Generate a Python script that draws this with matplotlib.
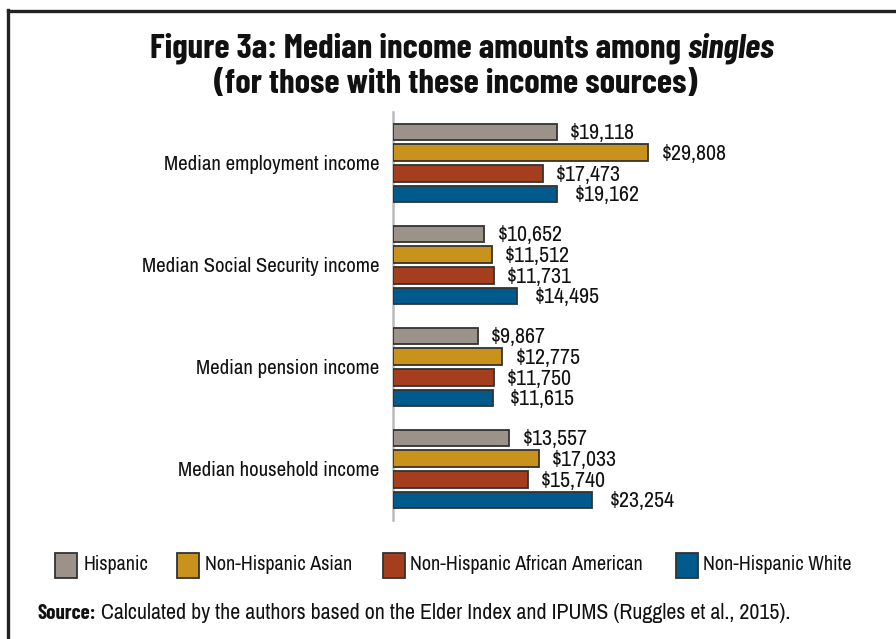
import matplotlib
matplotlib.use("Agg")
import matplotlib.pyplot as plt
from matplotlib.patches import Rectangle
from matplotlib.lines import Line2D

# 所得区分と人種・民族グループ別の中央値
categories = ["Median employment income", "Median Social Security income",
              "Median pension income", "Median household income"]
groups = ["Hispanic", "Non-Hispanic Asian", "Non-Hispanic African American", "Non-Hispanic White"]
hispanic = [19118, 10652, 9867, 13557]
asian = [29808, 11512, 12775, 17033]
african_american = [17473, 11731, 11750, 15740]
white = [19162, 14495, 11615, 23254]
colors = ["#9B928A", "#C8921C", "#A53E1E", "#005A8C"]

series = [hispanic, asian, african_american, white]

BODY = ["Archivo Narrow", "Liberation Sans", "DejaVu Sans"]
HEAD = ["Barlow Condensed", "Liberation Sans", "DejaVu Sans"]
plt.rcParams["font.family"] = BODY

W, H = 896, 639
fig = plt.figure(figsize=(W / 100, H / 100), dpi=100)

# 外枠（左と上の線）
fig.add_artist(Line2D([8 / W, 8 / W], [0, 1 - 10 / H], color="#222222", lw=2.4, transform=fig.transFigure))
fig.add_artist(Line2D([8 / W, 1], [1 - 11 / H, 1 - 11 / H], color="#222222", lw=2.4, transform=fig.transFigure))

ax = fig.add_axes([393 / W, 1 - 520 / H, 342.8 / W, 408 / H])

bar_h = 0.16
step = 0.203
for j, (vals, col) in enumerate(zip(series, colors)):
    ys = [i + (j - 1.5) * step for i in range(len(categories))]
    ax.barh(ys, vals, height=bar_h, color=col, edgecolor="#333333", linewidth=1.3, zorder=3)
    # 白の系列だけラベルを少し離す
    off = 12.5 if j == 3 else 9.5
    for y, v in zip(ys, vals):
        ax.annotate(f"${v:,}", xy=(v, y), xytext=(off, -1), textcoords="offset points",
                    ha="left", va="center", fontsize=15.8, color="#111111")

ax.set_xlim(0, 40000)
ax.set_ylim(3.5, -0.5)
ax.set_yticks(range(len(categories)))
ax.set_yticklabels(categories, fontsize=15, color="#111111")
ax.tick_params(axis="y", length=0, pad=10)
ax.set_xticks([])
for s in ["top", "right", "bottom"]:
    ax.spines[s].set_visible(False)
ax.spines["left"].set_color("#BBBBBB")
ax.spines["left"].set_linewidth(1.8)
ax.set_facecolor("none")

# タイトル（"singles" のみ斜体）
fig.canvas.draw()
r = fig.canvas.get_renderer()
tkw = dict(fontsize=25, fontweight="bold", color="#111111", va="baseline", family=HEAD)
parts = [("Figure 3a: Median income amounts among ", "normal"), ("singles", "italic")]
texts = [fig.text(0, 0, p, style=st, **tkw) for p, st in parts]
widths = [t.get_window_extent(r).width for t in texts]
x = 462 - sum(widths) / 2
for t, w in zip(texts, widths):
    t.set_position((x / W, 1 - 57 / H))
    x += w
fig.text(456 / W, 1 - 93 / H, "(for those with these income sources)", ha="center", **tkw)

# 凡例
legend_items = [(55, 84), (177, 205), (383, 410), (676, 703)]
for (px, tx), col, name in zip(legend_items, colors, groups):
    fig.add_artist(Rectangle((px / W, 1 - 578 / H), 22 / W, 25 / H, facecolor=col,
                             edgecolor="#333333", linewidth=1.3, transform=fig.transFigure))
    fig.text(tx / W, 1 - 565 / H, name, ha="left", va="center", fontsize=14.5, color="#111111")

# 出典
src1 = fig.text(37 / W, 1 - 619 / H, "Source:", fontsize=15, fontweight="bold", color="#111111",
                va="baseline", family=HEAD)
w1 = src1.get_window_extent(r).width
fig.text((37 + w1 + 5) / W, 1 - 619 / H,
         "Calculated by the authors based on the Elder Index and IPUMS (Ruggles et al., 2015).",
         fontsize=15.8, color="#111111", va="baseline")

fig.savefig("out.png", dpi=100)
